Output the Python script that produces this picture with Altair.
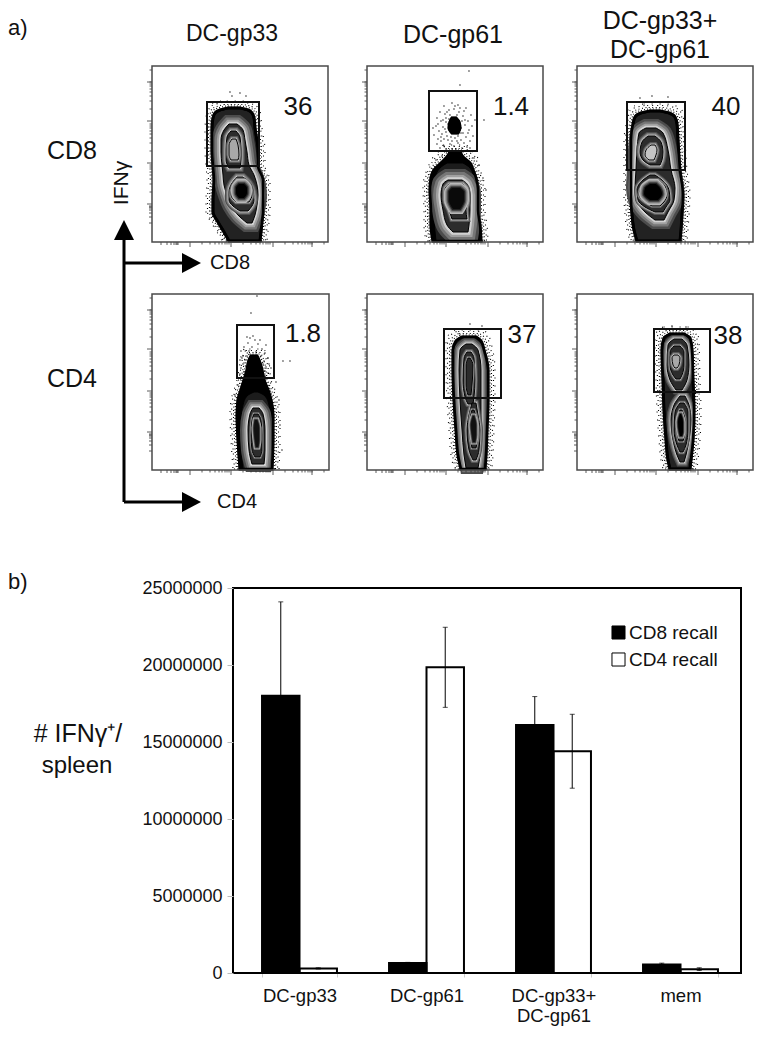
import altair as alt
import pandas as pd

FONT = "Liberation Sans"

# ---------- bar panel values ----------
groups = ["DC-gp33", "DC-gp61", "DC-gp33+|DC-gp61", "mem"]
series = ["CD8 recall", "CD4 recall"]
cd8_mean = [18000000, 650000, 16100000, 550000]
cd4_mean = [300000, 19850000, 14400000, 250000]
cd8_err = [6100000, 40000, 1850000, 90000]
cd4_err = [40000, 2600000, 2400000, 90000]
y_ticks = [0, 5000000, 10000000, 15000000, 20000000, 25000000]

# ---------- flow panels: frame and gate boxes (left, right, top, bottom) ----------
frames = [(152, 328, 66, 242), (367, 543, 66, 242), (577, 753, 66, 242),
          (152, 329, 294, 470), (367, 543, 294, 470), (577, 753, 294, 470)]
gates = [(207, 259, 102, 166), (429, 477, 91, 151), (627, 685, 102, 170),
         (237, 274, 325, 378), (444, 501, 329, 398), (654, 710, 329, 392)]
decades = [38, 79, 121, 160]
low_ticks = [4, 10, 14, 17, 19, 20, 21]
minor_ticks = [12, 20, 25, 29, 32, 35, 37, 39]

# contours: (level, ramp width, fill, halo?, rows of (y, left, right))
D = "#2c2c2c"
contours = [
 # panel 1
 (0, 0, "#222222", 1, [(108,228,240),(110,220,248),(113,215,252),(118,213,254),(128,212,255),(150,212,258),(166,213,258),(180,214,263),(200,213,263),(212,213,263),(222,218,262),(232,224,261),(241,229,260)]),
 (1, 18, D, 0, [(124,229,237),(130,224,243),(140,221,245),(152,221,247),(165,222,249),(175,223,254),(185,224,257),(195,227,258),(205,231,257),(215,238,255),(223,247,252)]),
 (2, 8, D, 0, [(131,231,236),(137,227,240),(150,226,241),(160,226,241),(168,229,240)]),
 (2, 8, D, 0, [(177,237,243),(183,232,249),(192,229,253),(200,229,254),(206,233,252),(211,240,248)]),
 (3, 6, "#a8a8a8", 0, [(139,232,236),(145,229,238),(155,229,239),(160,231,238)]),
 (3, 5, "#9a9a9a", 0, [(180,237,244),(186,233,250),(195,231,252),(202,236,249)]),
 (-4, 10, "#000000", 0, [(184,239,244),(188,236,247),(193,236,247),(198,239,244)]),
 # panel 2
 (0, 0, "#000000", 1, [(152,450,460),(157,447,463),(163,441,470),(170,434,473),(178,431,476),(190,430,478),(210,431,478),(225,431,480),(241,433,481)]),
 (0, 0, "#000000", 0, [(118,452,456),(122,450,459),(128,449,460),(133,452,458)]),
 (1, 0, "#1c1c1c", 0, [(163,447,463),(168,440,470),(178,435,474),(195,433,476),(220,434,477),(241,436,478)]),
 (2, 22, D, 0, [(180,448,462),(184,443,467),(195,441,470),(210,443,470),(225,447,469),(232,453,468)]),
 (3, 6, D, 0, [(184,449,463),(189,445,467),(200,445,468),(210,449,466),(219,452,467)]),
 (-4, 10, "#0a0a0a", 0, [(188,452,460),(192,449,464),(200,449,464),(209,453,460)]),
 # panel 3
 (0, 0, "#222222", 1, [(111,650,660),(113,641,669),(117,635,675),(124,633,677),(140,631,678),(170,631,680),(195,631,683),(215,632,682),(230,634,681),(241,637,680)]),
 (1, 18, D, 0, [(128,646,656),(133,639,663),(150,637,668),(170,636,671),(188,635,675),(200,637,674),(212,645,668),(220,655,664)]),
 (2, 8, D, 0, [(136,648,655),(142,642,661),(152,640,663),(160,643,662),(165,650,660)]),
 (2, 6, D, 0, [(175,650,655),(180,643,662),(190,637,669),(200,638,670),(207,645,666),(212,655,663)]),
 (3, 6, "#c4c4c4", 0, [(145,651,655),(150,646,657),(155,645,656),(160,649,654)]),
 (3, 4, "#8a8a8a", 0, [(180,650,658),(186,642,665),(195,639,667),(202,645,664),(206,652,660)]),
 (-4, 10, "#000000", 0, [(184,650,656),(188,645,660),(194,644,662),(200,650,658)]),
 # panel 4
 (0, 0, "#000000", 1, [(356,251,257),(360,249,259),(370,247,262),(380,244,264),(390,241,268),(400,238,271),(415,237,273),(440,238,273),(469,240,272)]),
 (1, 0, "#1c1c1c", 0, [(392,254,258),(396,247,265),(405,243,269),(420,241,271),(445,241,270),(469,243,270)]),
 (2, 16, D, 0, [(408,253,259),(414,250,263),(430,248,265),(450,249,265),(464,252,264)]),
 (3, 4, D, 0, [(414,254,258),(420,252,261),(435,251,262),(450,252,262),(457,255,260)]),
 (-4, 5, "#111111", 0, [(420,255,257),(428,254,259),(440,255,259),(447,256,258)]),
 # panel 5
 (0, 0, "#222222", 1, [(337,462,476),(341,456,481),(350,453,484),(370,453,488),(400,454,488),(430,456,487),(455,458,486),(469,461,485)]),
 (1, 12, D, 0, [(344,466,472),(350,460,478),(370,459,481),(400,460,481),(430,462,481),(455,464,480),(468,466,478)]),
 (2, 6, D, 0, [(352,467,471),(358,464,474),(380,463,475),(397,465,474),(404,468,473)]),
 (2, 6, D, 0, [(403,472,476),(415,469,478),(430,467,480),(450,469,479),(460,473,476)]),
 (3, 4, D, 0, [(358,468,470),(365,466,473),(385,466,472),(395,468,471)]),
 (3, 4, D, 0, [(410,472,474),(420,470,477),(435,470,478),(448,472,476)]),
 (-4, 5, "#111111", 0, [(416,473,474),(425,471,476),(435,472,476),(442,473,475)]),
 # panel 6
 (0, 0, "#222222", 1, [(334,670,684),(338,664,690),(350,662,692),(380,663,693),(410,664,694),(440,666,693),(460,668,691),(469,670,690)]),
 (1, 9, D, 0, [(339,674,682),(345,668,687),(365,667,689),(380,670,687),(390,676,682)]),
 (1, 9, D, 0, [(396,680,685),(405,674,689),(420,671,691),(440,673,689),(455,677,686),(462,680,684)]),
 (2, 5, D, 0, [(346,674,680),(352,670,684),(365,670,684),(375,673,682),(379,676,680)]),
 (2, 5, D, 0, [(403,680,684),(412,675,688),(430,674,688),(445,677,686),(452,680,683)]),
 (3, 6, "#a8a8a8", 0, [(355,674,678),(358,672,680),(365,673,679),(368,675,677)]),
 (3, 4, D, 0, [(410,680,682),(420,677,685),(432,677,685),(441,679,683)]),
 (-4, 5, "#000000", 0, [(414,680,681),(422,678,683),(432,679,683),(436,680,682)]),
]

# sparse events
dots = [
 (440,112),(444,106),(452,103),(458,105),(466,108),(471,115),(437,118),(441,121),(445,114),(449,110),(454,109),(459,112),
 (463,116),(468,121),(472,126),(436,126),(439,131),(443,127),(446,122),(450,115),(457,115),(462,121),(465,125),(469,130),
 (473,136),(434,135),(438,139),(442,134),(445,129),(447,136),(446,118),(461,128),(463,133),(466,137),(470,141),(437,144),
 (441,141),(444,146),(448,140),(451,137),(455,138),(458,136),(461,140),(464,143),(467,147),(440,148),(446,149),(450,144),
 (454,146),(458,143),(462,148),(470,148),(433,128),(475,120),(448,124),(446,132),(443,120),(464,111),(455,106),(441,137),
 (468,133),(457,141),(452,149),(438,124),(465,120),(447,112),(460,108),(449,119),(461,133),(444,139),(452,141),(456,149),
 (469,71),(460,85),(484,120),(442,156),(436,160),(474,158),(479,165),(483,178),(486,190),
 (250,338),(255,340),(248,343),(258,344),(244,347),(252,347),(262,349),(241,351),(249,351),(256,352),(265,353),(243,356),
 (247,356),(261,356),(268,358),(240,360),(245,360),(264,361),(243,364),(263,364),(269,364),(241,368),(246,367),(266,367),
 (271,368),(244,372),(240,374),(265,371),(268,373),(246,375),(265,376),(239,378),(270,378),(242,358),(260,340),(253,336),
 (266,345),(247,337),(238,385),(235,395),(276,382),(279,400),(280,425),(282,450),(251,313),(257,296),(290,361),(283,361),
 (232,96),(240,93),(246,96),(230,92),(640,98),(652,96),(668,97),(470,324),(482,326),(672,326),(686,327),
]


def contour_frame():
    out = []
    for i, (lvl, g, fill, halo, rows) in enumerate(contours):
        dark = lvl < 0
        ramp = ["#b8b8b8", "#8a8a8a", "#555555", "#222222"] if dark else ["#4c4c4c", "#767676", "#a0a0a0", "#d2d2d2"]
        for (y, l, r) in rows:
            out.append({"id": i, "level": abs(lvl), "y": y, "xl": l, "xr": r, "fill": fill,
                        "line": 3 if lvl == 0 else (0 if dark else 1),
                        "w0": g, "w1": g * 0.72, "w2": g * 0.46, "w3": g * 0.24,
                        "s0": ramp[0], "s1": ramp[1], "s2": ramp[2], "s3": ramp[3]})
    return pd.DataFrame(out)


df = contour_frame()

xs = alt.Scale(domain=[8, 755], nice=False, zero=False)
ys = alt.Scale(domain=[8, 588], nice=False, zero=False, reverse=True)
X = lambda f="x:Q": alt.X(f, scale=xs, axis=None)
Y = lambda f="y:Q": alt.Y(f, scale=ys, axis=None)
layers = []


def area_layer(data, **mark):
    return alt.Chart(data).mark_area(orient="horizontal", interpolate="monotone", opacity=1, **mark).encode(
        y=Y(), x=X("xl:Q"), x2="xr:Q", detail="id:N")


# stippled halo around the outer contours
for d, dash in [(7, [1, 7]), (5.5, [1, 4]), (3.5, [1, 2.5]), (2, [1, 2])]:
    rows = []
    for i, (lvl, g, fill, halo, rs) in enumerate(contours):
        if not halo:
            continue
        for j, (y, l, r) in enumerate(rs):
            rows.append({"id": i, "y": y - d if j < 3 else y, "xl": l - d, "xr": r + d})
    layers.append(area_layer(pd.DataFrame(rows), fillOpacity=0, stroke="black", strokeWidth=1.1, strokeDash=dash))

# zebra shading: wide to narrow strokes, then the filled contour
for lvl in [0, 1, 2, 3, 4]:
    sub = df[df.level == lvl]
    if lvl > 0:
        for k in range(4):
            layers.append(area_layer(sub[sub.w0 > 0], fillOpacity=0).encode(
                stroke=alt.Stroke(f"s{k}:N", scale=None),
                strokeWidth=alt.StrokeWidth(f"w{k}:Q", scale=None)))
    layers.append(area_layer(sub, stroke="black").encode(
        fill=alt.Fill("fill:N", scale=None),
        strokeWidth=alt.StrokeWidth("line:Q", scale=None)))

outer = df[df.line == 3]
layers.append(area_layer(outer, fillOpacity=0, stroke="black", strokeWidth=2.5))
layers.append(alt.Chart(pd.DataFrame(dots, columns=["x", "y"])).mark_circle(size=2.5, color="black", opacity=0.85).encode(x=X(), y=Y()))

# panel ticks
ticks = []
for (l, r, t, b) in frames:
    for d in decades:
        ticks.append({"x": l - 5, "x2": l, "y": b - d, "y2": b - d})
        ticks.append({"x": l + d, "x2": l + d, "y": b, "y2": b + 5})
        for m in minor_ticks:
            if d + m < 176:
                ticks.append({"x": l - 2.5, "x2": l, "y": b - d - m, "y2": b - d - m})
                ticks.append({"x": l + d + m, "x2": l + d + m, "y": b, "y2": b + 2.5})
    for m in low_ticks:
        ticks.append({"x": l - 3, "x2": l, "y": b - m - 15, "y2": b - m - 15})
        ticks.append({"x": l + m + 5, "x2": l + m + 5, "y": b, "y2": b + 3})
layers.append(alt.Chart(pd.DataFrame(ticks)).mark_rule(color="#333333", strokeWidth=0.8).encode(
    x=X(), x2="x2:Q", y=Y(), y2="y2:Q"))

box = lambda rows: pd.DataFrame(rows, columns=["x", "x2", "y", "y2"])
layers.append(alt.Chart(box(frames)).mark_rect(fillOpacity=0, stroke="#4a4a4a", strokeWidth=1.5).encode(
    x=X(), x2="x2:Q", y=Y(), y2="y2:Q"))
layers.append(alt.Chart(box(gates)).mark_rect(fillOpacity=0, stroke="#111111", strokeWidth=2).encode(
    x=X(), x2="x2:Q", y=Y(), y2="y2:Q"))

# arrows
arrow_lines = [(124, 124, 238, 502), (124, 184, 263, 263), (124, 184, 502, 502)]
layers.append(alt.Chart(box(arrow_lines)).mark_rule(color="black", strokeWidth=3).encode(
    x=X(), x2="x2:Q", y=Y(), y2="y2:Q"))
heads = pd.DataFrame(
    [dict(id=0, y=220, xl=124, xr=124), dict(id=0, y=240, xl=114, xr=134),
     dict(id=1, y=253, xl=182, xr=182), dict(id=1, y=263, xl=182, xr=201), dict(id=1, y=273, xl=182, xr=182),
     dict(id=2, y=492, xl=182, xr=182), dict(id=2, y=502, xl=182, xr=201), dict(id=2, y=512, xl=182, xr=182)])
layers.append(alt.Chart(heads).mark_area(orient="horizontal", opacity=1, color="black").encode(
    y=Y(), x=X("xl:Q"), x2="xr:Q", detail="id:N"))


def label(text, x, y, size, align="center", angle=0):
    return alt.Chart(pd.DataFrame({"x": [x], "y": [y], "t": [text]})).mark_text(
        font=FONT, fontSize=size, align=align, baseline="middle", color="#111111", angle=angle).encode(
        x=X(), y=Y(), text="t:N")


texts = [("a)", 8, 28, 22, "left"), ("b)", 8, 582, 22, "left"),
         ("DC-gp33", 232, 34, 23, "center"), ("DC-gp61", 453, 35, 25, "center"),
         ("DC-gp33+", 660, 21, 25, "center"), ("DC-gp61", 660, 50, 25, "center"),
         ("CD8", 72, 151, 25, "center"), ("CD4", 72, 379, 25, "center"),
         ("CD8", 230, 263, 20, "center"), ("CD4", 237, 502, 20, "center"),
         ("36", 298, 107, 26, "center"), ("1.4", 511, 107, 26, "center"), ("40", 726, 107, 26, "center"),
         ("1.8", 303, 334, 26, "center"), ("37", 522, 335, 26, "center"), ("38", 728, 336, 26, "center")]
layers += [label(*t) for t in texts]
layers.append(label("IFNγ", 122, 183, 21, "center", 270))

top = alt.layer(*layers).properties(width=747, height=580)

# ---------- bar chart ----------
bar_df = pd.DataFrame(
    [{"group": g, "series": series[0], "mean": m, "lo": m - e, "hi": m + e} for g, m, e in zip(groups, cd8_mean, cd8_err)] +
    [{"group": g, "series": series[1], "mean": m, "lo": m - e, "hi": m + e} for g, m, e in zip(groups, cd4_mean, cd4_err)])

bx = alt.X("group:N", sort=groups, title=None,
           scale=alt.Scale(domain=groups, range=[3, 511], paddingInner=0.41, paddingOuter=0.205),
           axis=alt.Axis(labelExpr="split(datum.label, '|')", labelAngle=0, labelFont=FONT, labelFontSize=18.5,
                         labelColor="#111111", labelPadding=18, labelLineHeight=20, tickBand="extent", tickOffset=-3,
                         tickSize=4, tickColor="#cccccc", domain=False, grid=False, labelBaseline="middle"))
by = alt.Y("mean:Q", title=None, scale=alt.Scale(domain=[0, 25000000], nice=False),
           axis=alt.Axis(values=y_ticks, format="d", labelFont=FONT, labelFontSize=18, labelColor="#111111",
                         tickSize=6, tickColor="#bbbbbb", domain=False, grid=False, labelPadding=5))
off = alt.XOffset("series:N", sort=series, scale=alt.Scale(domain=series, paddingInner=0, paddingOuter=0))

bars = alt.Chart(bar_df).mark_bar().encode(
    x=bx, xOffset=off, y=by,
    fill=alt.Fill("series:N", scale=alt.Scale(domain=series, range=["black", "white"]),
                  legend=alt.Legend(title=None, orient="none", legendX=601, legendY=615, symbolType="square",
                                    symbolSize=170, labelFont=FONT, labelFontSize=19, labelColor="#111111",
                                    rowPadding=7, symbolStrokeColor="#dddddd", symbolStrokeWidth=1, labelOffset=1)))
outline = alt.Chart(bar_df).mark_bar(fillOpacity=0, stroke="black", strokeWidth=2).encode(x=bx, xOffset=off, y=by)
err = alt.Chart(bar_df).mark_rule(color="black", strokeWidth=1).encode(
    x=alt.X("group:N", sort=groups), xOffset=off, y=alt.Y("lo:Q"), y2="hi:Q")
cap_hi = alt.Chart(bar_df).mark_tick(color="black", thickness=1, size=5).encode(
    x=alt.X("group:N", sort=groups), xOffset=off, y=alt.Y("hi:Q"))
cap_lo = alt.Chart(bar_df).mark_tick(color="black", thickness=1, size=5).encode(
    x=alt.X("group:N", sort=groups), xOffset=off, y=alt.Y("lo:Q"))
bar_chart = alt.layer(bars, outline, err, cap_hi, cap_lo).properties(
    width=508, height=385, view=alt.ViewConfig(stroke="black", strokeWidth=2))

spacer = alt.layer(
    alt.Chart(pd.DataFrame({"t": ["# IFNγ⁺/"]})).mark_text(font=FONT, fontSize=25, color="#111111").encode(
        x=alt.value(70), y=alt.value(146), text="t:N"),
    alt.Chart(pd.DataFrame({"t": ["spleen"]})).mark_text(font=FONT, fontSize=24, color="#111111").encode(
        x=alt.value(69), y=alt.value(178), text="t:N"),
).properties(width=225, height=385)

chart = alt.vconcat(
    top,
    alt.hconcat(spacer, bar_chart, spacing=0, bounds="flush"),
    spacing=0, bounds="flush",
).properties(padding=0).configure_view(stroke=None)

chart.save("out.html", embed_options={"renderer": "svg", "actions": False})
